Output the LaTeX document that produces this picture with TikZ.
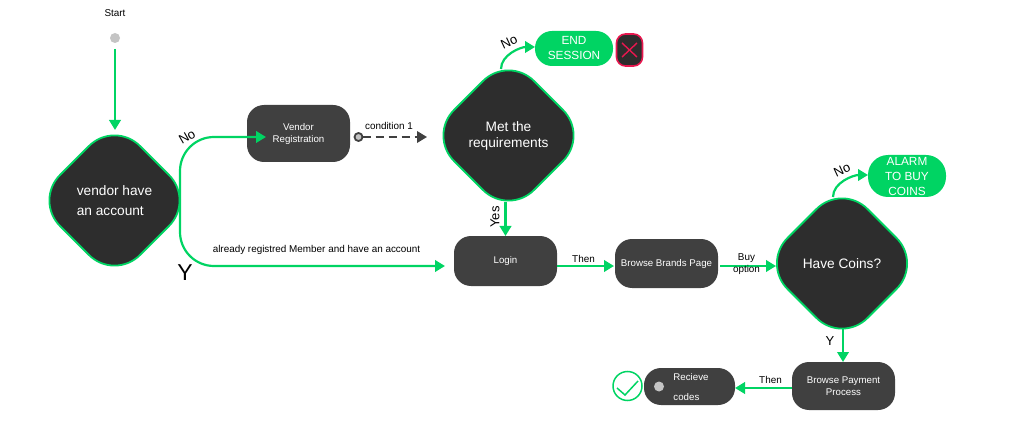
\documentclass[tikz,border=0pt]{standalone}
\usepackage{fontspec}
\setmainfont{Liberation Sans}
\usetikzlibrary{arrows.meta,shapes.geometric,calc}
\definecolor{flowgreen}{HTML}{00D463}
\definecolor{boxgrey}{HTML}{404040}
\definecolor{diamonddark}{HTML}{2D2D2D}
\definecolor{dotgrey}{HTML}{C4C4C4}
\definecolor{stopred}{HTML}{E8174F}

\begin{document}
\begin{tikzpicture}[x=1pt,y=-1pt,
  every node/.style={inner sep=0pt,outer sep=0pt},
  decision/.style={draw=flowgreen,line width=1.8pt,fill=diamonddark,shape=diamond,
    aspect=1,minimum width=160pt,minimum height=160pt,rounded corners=36pt,
    text=white,font=\fontsize{13.7}{16}\selectfont,align=center},
  process/.style={fill=boxgrey,rounded corners=17pt,text=white,align=center,
    font=\fontsize{9.7}{12}\selectfont,minimum width=103pt},
  alert/.style={fill=flowgreen,rounded corners=17pt,text=white,align=center,
    font=\fontsize{11.8}{15}\selectfont,minimum width=78pt},
  dot/.style={shape=circle,fill=dotgrey,minimum size=10pt},
  note/.style={font=\fontsize{9.9}{12}\selectfont,text=black,align=center},
  bignote/.style={font=\fontsize{13}{15}\selectfont,text=black},
  flow/.style={-{Triangle[length=10pt,width=11.5pt]},draw=flowgreen,line width=2.2pt}]

    \useasboundingbox (0,0) rectangle (1032,438);

    % start
    \node[note] (start) at (115,13) {Start};
    \node[dot] (startdot) at (115,38) {};

    % decisions
    \node[decision,font=\fontsize{13.7}{20}\selectfont,align=left] (vendor) at (114.5,200.5) {vendor have\\an account};
    \node[decision] (met) at (508.5,135.5) {\raisebox{-2pt}{Met the}\\\raisebox{-2pt}{requirements}};
    \node[decision] (coins) at (842,263.5) {Have Coins?};

    % processes
    \node[process,minimum height=57pt] (registration) at (298.5,133.5) {Vendor\\Registration};
    \node[process,minimum height=50pt] (login) at (505.5,261) {Login};
    \node[process,minimum height=49pt] (brands) at (666.5,263.5) {Browse Brands Page};
    \node[process,minimum height=48pt] (payment) at (843.5,386) {Browse Payment\\Process};
    \node[process,minimum width=91pt,minimum height=37pt] (recieve) at (689.5,386.5) {};
    \node[dot] (recievedot) at (659,386.5) {};
    \node[note,text=white,align=left,font=\fontsize{9.7}{20.5}\selectfont] (recievetext) at (691,387) {Recieve\\codes};

    % alerts
    \node[alert,minimum height=35pt] (endsession) at (574,48.5) {END\\SESSION};
    \node[alert,minimum height=42pt,rounded corners=20pt] (alarm) at (907,176) {ALARM\\TO BUY\\COINS};

    % icons
    \node[draw=stopred,line width=1.6pt,fill=diamonddark,rounded corners=9pt,
      minimum width=26pt,minimum height=32pt] (stop) at (629.5,50) {};
    \draw[stopred,line width=1.4pt] ($(stop.center)+(-7.5,-7)$) -- ($(stop.center)+(7.5,7)$);
    \draw[stopred,line width=1.4pt] ($(stop.center)+(-7.5,7)$) -- ($(stop.center)+(7.5,-7)$);
    \node[draw=flowgreen,line width=1.5pt,shape=circle,minimum size=29pt] (done) at (627.5,386) {};
    \draw[flowgreen,line width=1.5pt] ($(done.center)+(-10.5,2)$) -- ($(done.center)+(-2.5,9)$) -- ($(done.center)+(10.5,-5)$);

    % free ends
    \coordinate (startout) at (115,49);
    \coordinate (vendortop) at (115,130);
    \coordinate (vendorout) at (180,200);
    \coordinate (registrationin) at (266,137);
    \coordinate (loginin) at (445,266);
    \coordinate (condstart) at (358.5,137);
    \coordinate (condend) at (427,137);
    \coordinate (metout) at (501,69);
    \coordinate (metin) at (535,47);
    \coordinate (metbottom) at (505.5,202);
    \coordinate (loginout) at (557,266);
    \coordinate (brandsin) at (614,266);
    \coordinate (brandsout) at (720,266);
    \coordinate (coinsleft) at (776,266);
    \coordinate (coinsout) at (833,197);
    \coordinate (coinsin) at (868,175);
    \coordinate (coinsbottom) at (843,329);
    \coordinate (paymentout) at (792,388);
    \coordinate (recievein) at (735,388);

    % connectors
    \draw[flow] (startout) -- (vendortop);
    \draw[flow,rounded corners=34pt] (vendorout) |- (registrationin);
    \draw[flow,rounded corners=34pt] (vendorout) |- (loginin);
    \node[draw=boxgrey,line width=1.8pt,fill=dotgrey,shape=circle,minimum size=8pt] (condcircle) at (condstart) {};
    \draw[-{Triangle[length=10pt,width=11.5pt]},draw=boxgrey,line width=2pt,dash pattern=on 8pt off 5pt]
      (condcircle) -- (condend);
    \draw[flow] (metout) to[out=90,in=180,looseness=.9] (metin);
    \draw[flow] (metbottom) -- (login.north);
    \draw[flow] (loginout) -- (brandsin);
    \draw[flow] (brandsout) -- (coinsleft);
    \draw[flow] (coinsout) to[out=90,in=180,looseness=.9] (coinsin);
    \draw[flow] (coinsbottom) -- (coinsbottom |- payment.north);
    \draw[flow] (paymentout) -- (recievein);

    % labels
    \node[bignote,rotate=30] (nolabela) at (187,137) {No};
    \node[font=\fontsize{23}{24}\selectfont] (ylabela) at (185,272.5) {Y};
    \node[note] (condlabel) at (389,125.5) {condition 1};
    \node[note] (memberlabel) at (316.5,249.5) {already registred Member and have an account};
    \node[bignote,rotate=25] (nolabelb) at (509,42) {No};
    \node[bignote,rotate=90] (yeslabel) at (495,217) {Yes};
    \node[note] (thenlabela) at (583.5,258.5) {Then};
    \node[note] (buylabel) at (746.5,264) {Buy\\option};
    \node[bignote,rotate=25] (nolabelc) at (842,170) {No};
    \node[bignote] (ylabelb) at (830,341) {Y};
    \node[note] (thenlabelb) at (770.5,379.5) {Then};
\end{tikzpicture}
\end{document}
